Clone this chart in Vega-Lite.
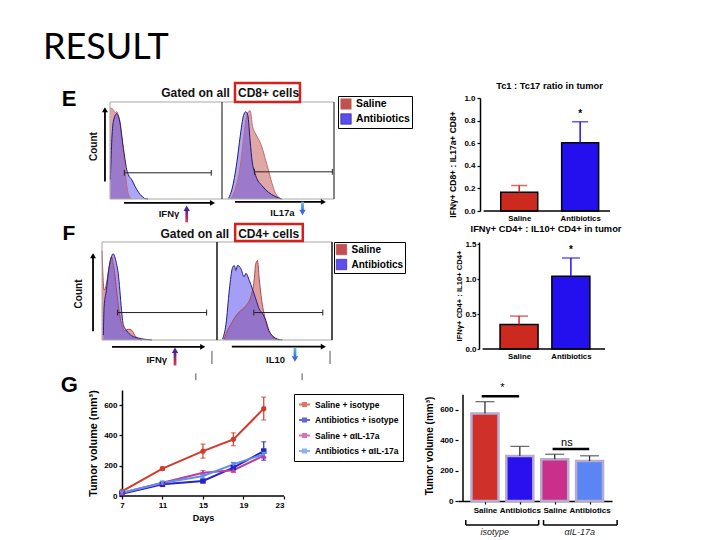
{
"$schema":"https://vega.github.io/schema/vega-lite/v6.json",
"padding":{"left":43,"top":30,"right":0,"bottom":0},
"title":{"text":"RESULT","anchor":"start","frame":"group","font":"Lato","fontSize":36,"fontWeight":"normal","color":"black"},
"columns":4,
"align":"each",
"bounds":"flush",
"spacing":0,
"resolve":{"scale":{"x":"independent","y":"independent","color":"independent","shape":"independent","stroke":"independent"},"axis":{"x":"independent","y":"independent"},"legend":{"color":"independent","shape":"independent"}},
"concat":[
{"width":59,"height":27,"data":{"values":[]},"mark":"point"},
{"width":1,"height":1,"data":{"values":[]},"mark":"point"},
{"width":124,"height":1,"data":{"values":[]},"mark":"point"},
{"width":1,"height":1,"data":{"values":[]},"mark":"point"},

{"width":1,"height":1,"data":{"values":[]},"mark":"point"},
{"width":232,"height":101,
"encoding":{"x":{"field":"x","type":"quantitative","scale":{"domain":[-7.14,200],"nice":false,"zero":false},"axis":null},"y":{"field":"y","type":"quantitative","stack":null,"scale":{"domain":[0,104.12],"nice":false,"zero":false},"axis":null}},
"layer":[
{"data":{"name":"hE"},"mark":{"type":"area","interpolate":"monotone","fillOpacity":0.5},
"encoding":{"detail":{"field":"panel"},"color":{"field":"group","type":"nominal","scale":{"domain":["Saline","Antibiotics"],"range":["#c0504d","#5a4ef0"]},"legend":{"orient":"none","legendX":236,"legendY":-2,"title":null,"symbolType":"square","symbolSize":110,"symbolOpacity":1,"symbolStrokeColor":"#333","symbolStrokeWidth":0.6,"labelFontSize":10.4,"labelFontWeight":"bold","strokeColor":"black","padding":2,"rowPadding":1}}}},
{"data":{"name":"hE"},"mark":{"type":"line","interpolate":"monotone","strokeWidth":1},
"encoding":{"detail":{"field":"panel"},"stroke":{"field":"group","type":"nominal","scale":{"domain":["Saline","Antibiotics"],"range":["#c46a68","#1e1a78"]},"legend":null}}},
{"data":{"values":[{"x":0,"x2":200,"y":100,"y2":100},{"x":0,"x2":0,"y":0,"y2":100},{"x":0,"x2":200,"y":0,"y2":0}]},"mark":{"type":"rule","color":"#a8a8a8","strokeWidth":1},"encoding":{"x2":{"field":"x2"},"y2":{"field":"y2"}}},
{"data":{"values":[{"x":100,"x2":100,"y":0,"y2":100},{"x":200,"x2":200,"y":0,"y2":100}]},"mark":{"type":"rule","color":"#333","strokeWidth":1.2},"encoding":{"x2":{"field":"x2"},"y2":{"field":"y2"}}},
{"data":{"values":[{"x":12.8,"x2":90.4,"y":27,"y2":27},{"x":12.8,"x2":12.8,"y":24,"y2":30},{"x":90.4,"x2":90.4,"y":24,"y2":30},{"x":129,"x2":198.5,"y":28,"y2":28},{"x":129,"x2":129,"y":25,"y2":31},{"x":198.5,"x2":198.5,"y":25,"y2":31}]},"mark":{"type":"rule","color":"#222","strokeWidth":1},"encoding":{"x2":{"field":"x2"},"y2":{"field":"y2"}}},
{"data":{"values":[{"x":-4.5,"x2":-4.5,"y":18,"y2":90},{"x":12.5,"x2":90,"y":-4,"y2":-4},{"x":111.6,"x2":189,"y":-3,"y2":-3}]},"mark":{"type":"rule","color":"black","strokeWidth":1.8},"encoding":{"x2":{"field":"x2"},"y2":{"field":"y2"}}},
{"data":{"values":[{"x":-4.5,"y":92,"d":"up"},{"x":91.5,"y":-4,"d":"right"},{"x":190.5,"y":-3,"d":"right"}]},"mark":{"type":"point","filled":true,"color":"black","size":35,"opacity":1},"encoding":{"shape":{"field":"d","type":"nominal","scale":{"domain":["up","right","down"],"range":["triangle-up","triangle-right","triangle-down"]},"legend":null}}},
{"data":{"values":[{"x":67.3,"x2":69.7,"y":-24,"y2":-11}]},"mark":{"type":"rect","fill":{"gradient":"linear","x1":0,"y1":1,"x2":0,"y2":0,"stops":[{"offset":0,"color":"#ee3a3a"},{"offset":1,"color":"#4a1e9e"}]}},"encoding":{"x2":{"field":"x2"},"y2":{"field":"y2"}}},
{"data":{"values":[{"x":68.5,"y":-9.5}]},"mark":{"type":"point","shape":"triangle-up","filled":true,"color":"#4a1e9e","size":40,"opacity":1}},
{"data":{"values":[{"x":170.7,"x2":173.1,"y":-2.8,"y2":-12}]},"mark":{"type":"rect","fill":{"gradient":"linear","x1":0,"y1":0,"x2":0,"y2":1,"stops":[{"offset":0,"color":"#5cc8ea"},{"offset":1,"color":"#3a6ae0"}]}},"encoding":{"x2":{"field":"x2"},"y2":{"field":"y2"}}},
{"data":{"values":[{"x":171.9,"y":-14}]},"mark":{"type":"point","shape":"triangle-down","filled":true,"color":"#3a6ae0","size":40,"opacity":1}},
{"data":{"values":[{"x":111.6,"x2":169.6,"y":100,"y2":119.6}]},"mark":{"type":"rect","filled":false,"stroke":"#d4211e","strokeWidth":2.5},"encoding":{"x2":{"field":"x2"},"y2":{"field":"y2"}}},
{"data":{"values":[{"x":107,"y":109.3,"t":"Gated on all"}]},"mark":{"type":"text","align":"right","baseline":"middle","fontWeight":"bold","fontSize":12,"color":"#111"},"encoding":{"text":{"field":"t"}}},
{"data":{"values":[{"x":114.3,"y":109.3,"t":"CD8+ cells"}]},"mark":{"type":"text","align":"left","baseline":"middle","fontWeight":"bold","fontSize":12,"color":"#111"},"encoding":{"text":{"field":"t"}}},
{"data":{"values":[{"x":-14,"y":54,"t":"Count"}]},"mark":{"type":"text","angle":270,"align":"center","baseline":"middle","fontWeight":"bold","fontSize":10,"color":"#111"},"encoding":{"text":{"field":"t"}}},
{"data":{"values":[{"x":52.7,"y":-15.5,"t":"IFNγ"},{"x":154,"y":-14.4,"t":"IL17a"}]},"mark":{"type":"text","align":"center","baseline":"middle","fontWeight":"bold","fontSize":9.5,"color":"#111"},"encoding":{"text":{"field":"t"}}},
{"data":{"values":[{"x":-36.6,"y":103,"t":"E"}]},"mark":{"type":"text","align":"center","baseline":"middle","fontWeight":"bold","fontSize":22,"color":"black"},"encoding":{"text":{"field":"t"}}}
]},
{"width":1,"height":1,"data":{"values":[]},"mark":"point"},
{"width":157,"height":113,
"title":{"text":"Tc1 : Tc17 ratio in tumor","fontSize":9.3,"fontWeight":"bold","font":"Liberation Sans","offset":3,"dx":13},
"layer":[
{"data":{"name":"b1"},"mark":{"type":"bar","size":37,"stroke":"black","strokeWidth":1.5},"encoding":{"x":{"field":"pos","type":"quantitative","scale":{"domain":[0.077,2.49],"nice":false,"zero":false},"axis":{"values":[1,2],"tickCount":10,"title":null,"labelExpr":"datum.value == 1 ? 'Saline' : 'Antibiotics'","ticks":false,"domain":false,"labelFontSize":7.8,"labelPadding":3,"labelOverlap":false}},"y":{"field":"mean","type":"quantitative","title":"IFNγ+ CD8+ : IL17a+ CD8+","scale":{"domain":[0,1],"nice":false},"axis":{"offset":-22,"values":[0,0.2,0.4,0.6,0.8,1.0],"tickCount":10,"format":".1f","labelOverlap":false,"labelFontSize":8,"titleFontSize":8.5,"tickSize":3,"titlePadding":6,"titleY":66}},"color":{"field":"group","type":"nominal","scale":{"domain":["Saline","Antibiotics"],"range":["#cc2a1f","#2410ee"]},"legend":null}}},
{"data":{"name":"b1"},"mark":{"type":"rule","strokeWidth":1.5},"encoding":{"x":{"field":"pos","type":"quantitative","scale":{"domain":[0.077,2.49],"nice":false,"zero":false}},"y":{"field":"mean","type":"quantitative","title":"IFNγ+ CD8+ : IL17a+ CD8+","scale":{"domain":[0,1],"nice":false}},"y2":{"field":"hi"},"color":{"field":"group","type":"nominal","scale":{"domain":["Saline","Antibiotics"],"range":["#cc2a1f","#2410ee"]},"legend":null}}},
{"data":{"name":"b1"},"mark":{"type":"tick","orient":"horizontal","thickness":1.5,"size":16},"encoding":{"x":{"field":"pos","type":"quantitative","scale":{"domain":[0.077,2.49],"nice":false,"zero":false}},"y":{"field":"hi","type":"quantitative","title":"IFNγ+ CD8+ : IL17a+ CD8+","scale":{"domain":[0,1],"nice":false}},"color":{"field":"group","type":"nominal","scale":{"domain":["Saline","Antibiotics"],"range":["#cc2a1f","#2410ee"]},"legend":null}}},
{"data":{"name":"b1"},"mark":{"type":"text","dy":-8,"fontSize":10,"fontWeight":"bold","color":"black"},"encoding":{"x":{"field":"pos","type":"quantitative","scale":{"domain":[0.077,2.49],"nice":false,"zero":false}},"y":{"field":"hi","type":"quantitative","title":"IFNγ+ CD8+ : IL17a+ CD8+","scale":{"domain":[0,1],"nice":false}},"text":{"field":"sig"}}},
{"data":{"values":[{"x":0.415,"x2":2.49,"y":0,"y2":0}]},"mark":{"type":"rule","color":"black","strokeWidth":1.5},"encoding":{"x":{"field":"x","type":"quantitative","scale":{"domain":[0.077,2.49],"nice":false,"zero":false}},"x2":{"field":"x2"},"y":{"field":"y","type":"quantitative","title":"IFNγ+ CD8+ : IL17a+ CD8+","scale":{"domain":[0,1],"nice":false}},"y2":{"field":"y2"}}}
]},

{"width":1,"height":31,"data":{"values":[]},"mark":"point"},
{"width":1,"height":1,"data":{"values":[]},"mark":"point"},
{"width":1,"height":1,"data":{"values":[]},"mark":"point"},
{"width":1,"height":1,"data":{"values":[]},"mark":"point"},

{"width":1,"height":1,"data":{"values":[]},"mark":"point"},
{"width":230,"height":98,
"encoding":{"x":{"field":"x","type":"quantitative","scale":{"domain":[0,200],"nice":false,"zero":false},"axis":null},"y":{"field":"y","type":"quantitative","stack":null,"scale":{"domain":[0,100],"nice":false,"zero":false},"axis":null}},
"layer":[
{"data":{"name":"hF"},"mark":{"type":"area","interpolate":"monotone","fillOpacity":0.55},
"encoding":{"detail":{"field":"panel"},"color":{"field":"group","type":"nominal","scale":{"domain":["Saline","Antibiotics"],"range":["#c0504d","#5a4ef0"]},"legend":{"orient":"none","legendX":232,"legendY":0,"title":null,"symbolType":"square","symbolSize":110,"symbolOpacity":1,"symbolStrokeColor":"#333","symbolStrokeWidth":0.6,"labelFontSize":10,"labelFontWeight":"bold","strokeColor":"black","padding":1.5,"rowPadding":1}}}},
{"data":{"name":"hF"},"mark":{"type":"line","interpolate":"monotone","strokeWidth":1},
"encoding":{"detail":{"field":"panel"},"stroke":{"field":"group","type":"nominal","scale":{"domain":["Saline","Antibiotics"],"range":["#b04848","#2a1e80"]},"legend":null}}},
{"data":{"values":[{"x":0,"x2":200,"y":100,"y2":100},{"x":0,"x2":0,"y":0,"y2":100},{"x":0,"x2":200,"y":0,"y2":0}]},"mark":{"type":"rule","color":"#a8a8a8","strokeWidth":1},"encoding":{"x2":{"field":"x2"},"y2":{"field":"y2"}}},
{"data":{"values":[{"x":100,"x2":100,"y":0,"y2":100},{"x":200,"x2":200,"y":0,"y2":100}]},"mark":{"type":"rule","color":"#222","strokeWidth":1.6},"encoding":{"x2":{"field":"x2"},"y2":{"field":"y2"}}},
{"data":{"values":[{"x":13.5,"x2":91,"y":28,"y2":28},{"x":13.5,"x2":13.5,"y":25,"y2":31},{"x":91,"x2":91,"y":25,"y2":31},{"x":132,"x2":192,"y":28,"y2":28},{"x":132,"x2":132,"y":25,"y2":31},{"x":192,"x2":192,"y":25,"y2":31}]},"mark":{"type":"rule","color":"#222","strokeWidth":1},"encoding":{"x2":{"field":"x2"},"y2":{"field":"y2"}}},
{"data":{"values":[{"x":-7.8,"x2":-7.8,"y":9,"y2":84},{"x":8.7,"x2":86,"y":-7,"y2":-7},{"x":112.9,"x2":191,"y":-6.8,"y2":-6.8}]},"mark":{"type":"rule","color":"black","strokeWidth":1.8},"encoding":{"x2":{"field":"x2"},"y2":{"field":"y2"}}},
{"data":{"values":[{"x":95.6,"x2":95.6,"y":-11,"y2":-24.5},{"x":81.6,"x2":81.6,"y":-34,"y2":-41},{"x":198.3,"x2":198.3,"y":-11,"y2":-24.5},{"x":174,"x2":174,"y":-34,"y2":-41}]},"mark":{"type":"rule","color":"#555","strokeWidth":1},"encoding":{"x2":{"field":"x2"},"y2":{"field":"y2"}}},
{"data":{"values":[{"x":-7.8,"y":86,"d":"up"},{"x":87.6,"y":-7,"d":"right"},{"x":192.5,"y":-6.8,"d":"right"}]},"mark":{"type":"point","filled":true,"color":"black","size":35,"opacity":1},"encoding":{"shape":{"field":"d","type":"nominal","scale":{"domain":["up","right","down"],"range":["triangle-up","triangle-right","triangle-down"]},"legend":null}}},
{"data":{"values":[{"x":62.3,"x2":64.7,"y":-26,"y2":-12.6}]},"mark":{"type":"rect","fill":{"gradient":"linear","x1":0,"y1":1,"x2":0,"y2":0,"stops":[{"offset":0,"color":"#ee3a3a"},{"offset":1,"color":"#4a1e9e"}]}},"encoding":{"x2":{"field":"x2"},"y2":{"field":"y2"}}},
{"data":{"values":[{"x":63.5,"y":-10.5}]},"mark":{"type":"point","shape":"triangle-up","filled":true,"color":"#4a1e9e","size":40,"opacity":1}},
{"data":{"values":[{"x":166.6,"x2":169,"y":-8,"y2":-17}]},"mark":{"type":"rect","fill":{"gradient":"linear","x1":0,"y1":0,"x2":0,"y2":1,"stops":[{"offset":0,"color":"#5cc8ea"},{"offset":1,"color":"#3a6ae0"}]}},"encoding":{"x2":{"field":"x2"},"y2":{"field":"y2"}}},
{"data":{"values":[{"x":167.8,"y":-19.5}]},"mark":{"type":"point","shape":"triangle-down","filled":true,"color":"#3a6ae0","size":40,"opacity":1}},
{"data":{"values":[{"x":115.8,"x2":174.6,"y":101,"y2":118.4}]},"mark":{"type":"rect","filled":false,"stroke":"#d4211e","strokeWidth":2.5},"encoding":{"x2":{"field":"x2"},"y2":{"field":"y2"}}},
{"data":{"values":[{"x":110.5,"y":108,"t":"Gated on all"}]},"mark":{"type":"text","align":"right","baseline":"middle","fontWeight":"bold","fontSize":12,"color":"#111"},"encoding":{"text":{"field":"t"}}},
{"data":{"values":[{"x":118.4,"y":108,"t":"CD4+ cells"}]},"mark":{"type":"text","align":"left","baseline":"middle","fontWeight":"bold","fontSize":12,"color":"#111"},"encoding":{"text":{"field":"t"}}},
{"data":{"values":[{"x":-20,"y":47,"t":"Count"}]},"mark":{"type":"text","angle":270,"align":"center","baseline":"middle","fontWeight":"bold","fontSize":10,"color":"#111"},"encoding":{"text":{"field":"t"}}},
{"data":{"values":[{"x":47.6,"y":-20.4,"t":"IFNγ"},{"x":150.9,"y":-20.4,"t":"IL10"}]},"mark":{"type":"text","align":"center","baseline":"middle","fontWeight":"bold","fontSize":9.5,"color":"#111"},"encoding":{"text":{"field":"t"}}},
{"data":{"values":[{"x":-28.7,"y":108,"t":"F"}]},"mark":{"type":"text","align":"center","baseline":"middle","fontWeight":"bold","fontSize":21,"color":"black"},"encoding":{"text":{"field":"t"}}}
]},
{"width":1,"height":1,"data":{"values":[]},"mark":"point"},
{"width":152,"height":107,
"title":{"text":"IFNγ+ CD4+ : IL10+ CD4+ in tumor","fontSize":9.3,"fontWeight":"bold","font":"Liberation Sans","offset":6,"dx":12},
"layer":[
{"data":{"name":"b2"},"mark":{"type":"bar","size":38,"stroke":"black","strokeWidth":1.5},"encoding":{"x":{"field":"pos","type":"quantitative","scale":{"domain":[-0.081,2.658],"nice":false,"zero":false},"axis":{"values":[1,2],"tickCount":10,"title":null,"labelExpr":"datum.value == 1 ? 'Saline' : 'Antibiotics'","ticks":false,"domain":false,"labelFontSize":7.8,"labelPadding":3,"labelOverlap":false}},"y":{"field":"mean","type":"quantitative","title":"IFNγ+ CD4+ : IL10+ CD4+","scale":{"domain":[0,1.5286],"nice":false},"axis":{"offset":-21,"values":[0,0.5,1.0,1.5],"tickCount":10,"format":".1f","labelOverlap":false,"labelFontSize":8,"titleFontSize":7.6,"tickSize":2,"labelPadding":1,"titlePadding":1}},"color":{"field":"group","type":"nominal","scale":{"domain":["Saline","Antibiotics"],"range":["#cc2a1f","#2410ee"]},"legend":null}}},
{"data":{"name":"b2"},"mark":{"type":"rule","strokeWidth":1.5},"encoding":{"x":{"field":"pos","type":"quantitative","scale":{"domain":[-0.081,2.658],"nice":false,"zero":false}},"y":{"field":"mean","type":"quantitative","title":"IFNγ+ CD4+ : IL10+ CD4+","scale":{"domain":[0,1.5286],"nice":false}},"y2":{"field":"hi"},"color":{"field":"group","type":"nominal","scale":{"domain":["Saline","Antibiotics"],"range":["#cc2a1f","#2410ee"]},"legend":null}}},
{"data":{"name":"b2"},"mark":{"type":"tick","orient":"horizontal","thickness":1.5,"size":18},"encoding":{"x":{"field":"pos","type":"quantitative","scale":{"domain":[-0.081,2.658],"nice":false,"zero":false}},"y":{"field":"hi","type":"quantitative","title":"IFNγ+ CD4+ : IL10+ CD4+","scale":{"domain":[0,1.5286],"nice":false}},"color":{"field":"group","type":"nominal","scale":{"domain":["Saline","Antibiotics"],"range":["#cc2a1f","#2410ee"]},"legend":null}}},
{"data":{"name":"b2"},"mark":{"type":"text","dy":-8,"fontSize":10,"fontWeight":"bold","color":"black"},"encoding":{"x":{"field":"pos","type":"quantitative","scale":{"domain":[-0.081,2.658],"nice":false,"zero":false}},"y":{"field":"hi","type":"quantitative","title":"IFNγ+ CD4+ : IL10+ CD4+","scale":{"domain":[0,1.5286],"nice":false}},"text":{"field":"sig"}}},
{"data":{"values":[{"x":0.297,"x2":2.658,"y":0,"y2":0}]},"mark":{"type":"rule","color":"black","strokeWidth":1.5},"encoding":{"x":{"field":"x","type":"quantitative","scale":{"domain":[-0.081,2.658],"nice":false,"zero":false}},"x2":{"field":"x2"},"y":{"field":"y","type":"quantitative","title":"IFNγ+ CD4+ : IL10+ CD4+","scale":{"domain":[0,1.5286],"nice":false}},"y2":{"field":"y2"}}}
]},

{"width":1,"height":41,"data":{"values":[]},"mark":"point"},
{"width":1,"height":1,"data":{"values":[]},"mark":"point"},
{"width":1,"height":1,"data":{"values":[]},"mark":"point"},
{"width":1,"height":1,"data":{"values":[]},"mark":"point"},

{"width":1,"height":1,"data":{"values":[]},"mark":"point"},
{"width":182,"height":106,
"layer":[
{"data":{"values":[{"x":7,"x2":23,"y":0,"y2":0}]},"mark":{"type":"rule","color":"black","strokeWidth":1.5},"encoding":{"x":{"field":"x","type":"quantitative","scale":{"domain":[5.033,23],"nice":false,"zero":false},"title":"Days","axis":{"values":[7,11,15,19,23],"tickCount":10,"domain":false,"labelOverlap":false,"titleFontSize":9,"labelFontSize":8,"tickSize":3,"titlePadding":4,"titleX":101}},"x2":{"field":"x2"},"y":{"field":"y","type":"quantitative","title":"Tumor volume (mm³)","scale":{"domain":[0,700],"nice":false},"axis":{"offset":-20,"values":[0,200,400,600],"tickCount":10,"labelOverlap":false,"labelFontSize":8,"tickSize":3,"titleFontSize":10.8,"titlePadding":5}},"y2":{"field":"y2"}}},
{"data":{"name":"g"},"mark":{"type":"errorbar","ticks":true,"thickness":1.2},"encoding":{"x":{"field":"day","type":"quantitative","scale":{"domain":[5.033,23],"nice":false,"zero":false},"title":"Days"},"y":{"field":"lo","type":"quantitative","title":"Tumor volume (mm³)","scale":{"domain":[0,700],"nice":false}},"y2":{"field":"hi"},"color":{"field":"s","type":"nominal","scale":{"domain":["Saline + isotype","Antibiotics + isotype","Saline + αIL-17a","Antibiotics + αIL-17a"],"range":["#d23a2c","#2424c8","#c03c9c","#5f8fe8"]},"legend":{"orient":"none","legendX":192,"legendY":4,"title":null,"symbolType":"M-1,0H1M-0.28,-0.28H0.28V0.28H-0.28Z","symbolStrokeWidth":2,"symbolSize":120,"labelFontSize":8.5,"labelFontWeight":"bold","strokeColor":"black","padding":4,"rowPadding":2.5}}}},
{"data":{"name":"g"},"mark":{"type":"line","strokeWidth":2},"encoding":{"x":{"field":"day","type":"quantitative","scale":{"domain":[5.033,23],"nice":false,"zero":false},"title":"Days"},"y":{"field":"v","type":"quantitative","title":"Tumor volume (mm³)","scale":{"domain":[0,700],"nice":false}},"color":{"field":"s","type":"nominal","scale":{"domain":["Saline + isotype","Antibiotics + isotype","Saline + αIL-17a","Antibiotics + αIL-17a"],"range":["#d23a2c","#2424c8","#c03c9c","#5f8fe8"]}}}},
{"data":{"name":"g"},"transform":[{"filter":"datum.s == 'Saline + isotype'"}],"mark":{"type":"point","shape":"circle","filled":true,"size":28,"opacity":1},"encoding":{"x":{"field":"day","type":"quantitative","scale":{"domain":[5.033,23],"nice":false,"zero":false},"title":"Days"},"y":{"field":"v","type":"quantitative","title":"Tumor volume (mm³)","scale":{"domain":[0,700],"nice":false}},"color":{"field":"s","type":"nominal","scale":{"domain":["Saline + isotype","Antibiotics + isotype","Saline + αIL-17a","Antibiotics + αIL-17a"],"range":["#d23a2c","#2424c8","#c03c9c","#5f8fe8"]}}}},
{"data":{"name":"g"},"transform":[{"filter":"datum.s == 'Antibiotics + isotype'"}],"mark":{"type":"point","shape":"square","filled":true,"size":30,"opacity":1},"encoding":{"x":{"field":"day","type":"quantitative","scale":{"domain":[5.033,23],"nice":false,"zero":false},"title":"Days"},"y":{"field":"v","type":"quantitative","title":"Tumor volume (mm³)","scale":{"domain":[0,700],"nice":false}},"color":{"field":"s","type":"nominal","scale":{"domain":["Saline + isotype","Antibiotics + isotype","Saline + αIL-17a","Antibiotics + αIL-17a"],"range":["#d23a2c","#2424c8","#c03c9c","#5f8fe8"]}}}},
{"data":{"name":"g"},"transform":[{"filter":"datum.s == 'Saline + αIL-17a'"}],"mark":{"type":"point","shape":"triangle-up","filled":true,"size":30,"opacity":1},"encoding":{"x":{"field":"day","type":"quantitative","scale":{"domain":[5.033,23],"nice":false,"zero":false},"title":"Days"},"y":{"field":"v","type":"quantitative","title":"Tumor volume (mm³)","scale":{"domain":[0,700],"nice":false}},"color":{"field":"s","type":"nominal","scale":{"domain":["Saline + isotype","Antibiotics + isotype","Saline + αIL-17a","Antibiotics + αIL-17a"],"range":["#d23a2c","#2424c8","#c03c9c","#5f8fe8"]}}}},
{"data":{"name":"g"},"transform":[{"filter":"datum.s == 'Antibiotics + αIL-17a'"}],"mark":{"type":"point","shape":"triangle-down","filled":true,"size":30,"opacity":1},"encoding":{"x":{"field":"day","type":"quantitative","scale":{"domain":[5.033,23],"nice":false,"zero":false},"title":"Days"},"y":{"field":"v","type":"quantitative","title":"Tumor volume (mm³)","scale":{"domain":[0,700],"nice":false}},"color":{"field":"s","type":"nominal","scale":{"domain":["Saline + isotype","Antibiotics + isotype","Saline + αIL-17a","Antibiotics + αIL-17a"],"range":["#d23a2c","#2424c8","#c03c9c","#5f8fe8"]}}}},
{"data":{"values":[{"x":1.8,"y":733,"t":"G"}]},"mark":{"type":"text","align":"center","baseline":"middle","fontWeight":"bold","fontSize":22,"color":"black"},"encoding":{"x":{"field":"x","type":"quantitative","scale":{"domain":[5.033,23],"nice":false,"zero":false},"title":"Days"},"y":{"field":"y","type":"quantitative","title":"Tumor volume (mm³)","scale":{"domain":[0,700],"nice":false}},"text":{"field":"t"}}}
]},
{"width":1,"height":1,"data":{"values":[]},"mark":"point"},
{"width":154,"height":111,
"layer":[
{"data":{"name":"b3"},"mark":{"type":"bar","size":27,"stroke":"#b7abcf","strokeWidth":2.5},"encoding":{"x":{"field":"pos","type":"quantitative","scale":{"domain":[0.37,4.5],"nice":false,"zero":false},"axis":{"values":[1,2,3,4],"tickCount":10,"title":null,"labelExpr":"datum.value == 1 || datum.value == 3 ? 'Saline' : 'Antibiotics'","labelOverlap":false,"labelFontSize":8,"tickSize":3}},"y":{"field":"mean","type":"quantitative","title":"Tumor volume (mm³)","scale":{"domain":[0,731.7],"nice":false},"axis":{"values":[0,200,400,600],"tickCount":10,"domain":false,"labelOverlap":false,"labelFontSize":8,"tickSize":3,"titleFontSize":10,"titlePadding":5}},"color":{"field":"c","type":"nominal","scale":{"domain":["Saline isotype","Antibiotics isotype","Saline αIL-17a","Antibiotics αIL-17a"],"range":["#d0302a","#2a10ee","#c8308c","#5b85f2"]},"legend":null}}},
{"data":{"name":"b3"},"mark":{"type":"rule","color":"#333","strokeWidth":1.3},"encoding":{"x":{"field":"pos","type":"quantitative","scale":{"domain":[0.37,4.5],"nice":false,"zero":false}},"y":{"field":"mean","type":"quantitative","title":"Tumor volume (mm³)","scale":{"domain":[0,731.7],"nice":false}},"y2":{"field":"hi"}}},
{"data":{"name":"b3"},"mark":{"type":"tick","orient":"horizontal","color":"#333","thickness":1.3,"size":19},"encoding":{"x":{"field":"pos","type":"quantitative","scale":{"domain":[0.37,4.5],"nice":false,"zero":false}},"y":{"field":"hi","type":"quantitative","title":"Tumor volume (mm³)","scale":{"domain":[0,731.7],"nice":false}}}},
{"data":{"values":[{"x":0.37,"x2":0.37,"y":0,"y2":700}]},"mark":{"type":"rule","color":"black","strokeWidth":1.5},"encoding":{"x":{"field":"x","type":"quantitative","scale":{"domain":[0.37,4.5],"nice":false,"zero":false}},"x2":{"field":"x2"},"y":{"field":"y","type":"quantitative","title":"Tumor volume (mm³)","scale":{"domain":[0,731.7],"nice":false}},"y2":{"field":"y2"}}},
{"data":{"values":[{"x":0.906,"x2":1.98,"y":690,"y2":690},{"x":2.94,"x2":3.99,"y":343,"y2":343}]},"mark":{"type":"rule","color":"black","strokeWidth":2.5},"encoding":{"x":{"field":"x","type":"quantitative","scale":{"domain":[0.37,4.5],"nice":false,"zero":false}},"x2":{"field":"x2"},"y":{"field":"y","type":"quantitative","title":"Tumor volume (mm³)","scale":{"domain":[0,731.7],"nice":false}},"y2":{"field":"y2"}}},
{"data":{"values":[{"x":0.45,"x2":2.54,"y":-158,"y2":-158},{"x":0.45,"x2":0.45,"y":-125,"y2":-158},{"x":2.54,"x2":2.54,"y":-125,"y2":-158},{"x":2.68,"x2":4.79,"y":-158,"y2":-158},{"x":2.68,"x2":2.68,"y":-125,"y2":-158},{"x":4.79,"x2":4.79,"y":-125,"y2":-158}]},"mark":{"type":"rule","color":"black","strokeWidth":1.5},"encoding":{"x":{"field":"x","type":"quantitative","scale":{"domain":[0.37,4.5],"nice":false,"zero":false}},"x2":{"field":"x2"},"y":{"field":"y","type":"quantitative","title":"Tumor volume (mm³)","scale":{"domain":[0,731.7],"nice":false}},"y2":{"field":"y2"}}},
{"data":{"values":[{"x":1.5,"y":745,"t":"*"},{"x":3.35,"y":383,"t":"ns"}]},"mark":{"type":"text","align":"center","baseline":"middle","fontSize":11,"color":"black"},"encoding":{"x":{"field":"x","type":"quantitative","scale":{"domain":[0.37,4.5],"nice":false,"zero":false}},"y":{"field":"y","type":"quantitative","title":"Tumor volume (mm³)","scale":{"domain":[0,731.7],"nice":false}},"text":{"field":"t"}}},
{"data":{"values":[{"x":1.28,"y":-204,"t":"isotype"},{"x":3.72,"y":-204,"t":"αIL-17a"}]},"mark":{"type":"text","align":"center","baseline":"middle","fontSize":9,"fontStyle":"italic","color":"#222"},"encoding":{"x":{"field":"x","type":"quantitative","scale":{"domain":[0.37,4.5],"nice":false,"zero":false}},"y":{"field":"y","type":"quantitative","title":"Tumor volume (mm³)","scale":{"domain":[0,731.7],"nice":false}},"text":{"field":"t"}}}
]}
],
"datasets":{
"hE":[
{"panel":"L","group":"Saline","x":0,"y":94},{"panel":"L","group":"Saline","x":3,"y":92},{"panel":"L","group":"Saline","x":4.5,"y":89},{"panel":"L","group":"Saline","x":6,"y":90},{"panel":"L","group":"Saline","x":7.5,"y":86},{"panel":"L","group":"Saline","x":9,"y":79},{"panel":"L","group":"Saline","x":10.4,"y":65},{"panel":"L","group":"Saline","x":12,"y":48},{"panel":"L","group":"Saline","x":13.4,"y":31},{"panel":"L","group":"Saline","x":15,"y":14},{"panel":"L","group":"Saline","x":16.4,"y":5},{"panel":"L","group":"Saline","x":19,"y":0},
{"panel":"L","group":"Antibiotics","x":0.3,"y":20},{"panel":"L","group":"Antibiotics","x":1.5,"y":58},{"panel":"L","group":"Antibiotics","x":3,"y":80},{"panel":"L","group":"Antibiotics","x":6,"y":88},{"panel":"L","group":"Antibiotics","x":7.5,"y":85},{"panel":"L","group":"Antibiotics","x":9,"y":78},{"panel":"L","group":"Antibiotics","x":10.4,"y":66},{"panel":"L","group":"Antibiotics","x":12,"y":52},{"panel":"L","group":"Antibiotics","x":13.4,"y":41},{"panel":"L","group":"Antibiotics","x":15,"y":30},{"panel":"L","group":"Antibiotics","x":16.4,"y":25},{"panel":"L","group":"Antibiotics","x":19.4,"y":20},{"panel":"L","group":"Antibiotics","x":22.4,"y":13},{"panel":"L","group":"Antibiotics","x":25.4,"y":7},{"panel":"L","group":"Antibiotics","x":28.4,"y":3},{"panel":"L","group":"Antibiotics","x":31,"y":0.5},{"panel":"L","group":"Antibiotics","x":34,"y":0},
{"panel":"R","group":"Saline","x":107.4,"y":0},{"panel":"R","group":"Saline","x":111.8,"y":10},{"panel":"R","group":"Saline","x":116.3,"y":34},{"panel":"R","group":"Saline","x":119.2,"y":62},{"panel":"R","group":"Saline","x":121.3,"y":82},{"panel":"R","group":"Saline","x":123.1,"y":89},{"panel":"R","group":"Saline","x":125.1,"y":91},{"panel":"R","group":"Saline","x":127.2,"y":75},{"panel":"R","group":"Saline","x":129.6,"y":68},{"panel":"R","group":"Saline","x":132.5,"y":62},{"panel":"R","group":"Saline","x":135.5,"y":54},{"panel":"R","group":"Saline","x":138.5,"y":42},{"panel":"R","group":"Saline","x":141.4,"y":30},{"panel":"R","group":"Saline","x":144.4,"y":17},{"panel":"R","group":"Saline","x":147.3,"y":7},{"panel":"R","group":"Saline","x":150.3,"y":2},{"panel":"R","group":"Saline","x":153,"y":0},
{"panel":"R","group":"Antibiotics","x":105.9,"y":0.7},{"panel":"R","group":"Antibiotics","x":108.9,"y":10},{"panel":"R","group":"Antibiotics","x":113.3,"y":38},{"panel":"R","group":"Antibiotics","x":116.3,"y":65},{"panel":"R","group":"Antibiotics","x":119.2,"y":86},{"panel":"R","group":"Antibiotics","x":121.3,"y":90},{"panel":"R","group":"Antibiotics","x":123.1,"y":86},{"panel":"R","group":"Antibiotics","x":125.1,"y":60},{"panel":"R","group":"Antibiotics","x":127,"y":38},{"panel":"R","group":"Antibiotics","x":129,"y":28},{"panel":"R","group":"Antibiotics","x":131.1,"y":21},{"panel":"R","group":"Antibiotics","x":135.5,"y":14},{"panel":"R","group":"Antibiotics","x":141.4,"y":7},{"panel":"R","group":"Antibiotics","x":147.3,"y":2.7},{"panel":"R","group":"Antibiotics","x":153.3,"y":0}],
"hF":[
{"panel":"L","group":"Saline","x":0,"y":91},{"panel":"L","group":"Saline","x":1.8,"y":51},{"panel":"L","group":"Saline","x":3.8,"y":57},{"panel":"L","group":"Saline","x":5.3,"y":68},{"panel":"L","group":"Saline","x":6.7,"y":78},{"panel":"L","group":"Saline","x":8.2,"y":85},{"panel":"L","group":"Saline","x":9.7,"y":78},{"panel":"L","group":"Saline","x":11.1,"y":68},{"panel":"L","group":"Saline","x":12.6,"y":51},{"panel":"L","group":"Saline","x":14.7,"y":31},{"panel":"L","group":"Saline","x":17,"y":16},{"panel":"L","group":"Saline","x":19.9,"y":9.6},{"panel":"L","group":"Saline","x":22.9,"y":11},{"panel":"L","group":"Saline","x":25.8,"y":10},{"panel":"L","group":"Saline","x":28.7,"y":4.4},{"panel":"L","group":"Saline","x":31.7,"y":1},{"panel":"L","group":"Saline","x":34.6,"y":0},
{"panel":"L","group":"Antibiotics","x":1.2,"y":5},{"panel":"L","group":"Antibiotics","x":1.8,"y":33},{"panel":"L","group":"Antibiotics","x":3.8,"y":51},{"panel":"L","group":"Antibiotics","x":5.9,"y":72},{"panel":"L","group":"Antibiotics","x":8.2,"y":85},{"panel":"L","group":"Antibiotics","x":9.7,"y":88},{"panel":"L","group":"Antibiotics","x":11.1,"y":85},{"panel":"L","group":"Antibiotics","x":12.6,"y":78},{"panel":"L","group":"Antibiotics","x":14.1,"y":68},{"panel":"L","group":"Antibiotics","x":15.5,"y":51},{"panel":"L","group":"Antibiotics","x":17,"y":30},{"panel":"L","group":"Antibiotics","x":18.5,"y":16},{"panel":"L","group":"Antibiotics","x":21.4,"y":9.6},{"panel":"L","group":"Antibiotics","x":25.8,"y":4.4},{"panel":"L","group":"Antibiotics","x":31.7,"y":2},{"panel":"L","group":"Antibiotics","x":37.5,"y":0.7},{"panel":"L","group":"Antibiotics","x":43.4,"y":0},
{"panel":"R","group":"Saline","x":106.3,"y":1},{"panel":"R","group":"Saline","x":109.2,"y":10},{"panel":"R","group":"Saline","x":112.1,"y":16},{"panel":"R","group":"Saline","x":115,"y":22},{"panel":"R","group":"Saline","x":117.9,"y":27},{"panel":"R","group":"Saline","x":120.7,"y":30},{"panel":"R","group":"Saline","x":123.6,"y":33},{"panel":"R","group":"Saline","x":126.5,"y":37},{"panel":"R","group":"Saline","x":129.4,"y":44},{"panel":"R","group":"Saline","x":132.3,"y":61},{"panel":"R","group":"Saline","x":133.7,"y":78},{"panel":"R","group":"Saline","x":135.2,"y":81},{"panel":"R","group":"Saline","x":136.6,"y":64},{"panel":"R","group":"Saline","x":138.9,"y":40},{"panel":"R","group":"Saline","x":140.9,"y":27},{"panel":"R","group":"Saline","x":143.8,"y":13},{"panel":"R","group":"Saline","x":146.7,"y":6},{"panel":"R","group":"Saline","x":151,"y":1},{"panel":"R","group":"Saline","x":153.9,"y":0},
{"panel":"R","group":"Antibiotics","x":104.9,"y":1},{"panel":"R","group":"Antibiotics","x":107.8,"y":16},{"panel":"R","group":"Antibiotics","x":110.7,"y":51},{"panel":"R","group":"Antibiotics","x":112.1,"y":65},{"panel":"R","group":"Antibiotics","x":113.5,"y":74},{"panel":"R","group":"Antibiotics","x":115,"y":76},{"panel":"R","group":"Antibiotics","x":116.4,"y":71},{"panel":"R","group":"Antibiotics","x":117.9,"y":76},{"panel":"R","group":"Antibiotics","x":120.7,"y":73},{"panel":"R","group":"Antibiotics","x":123.6,"y":64.5},{"panel":"R","group":"Antibiotics","x":125.1,"y":68},{"panel":"R","group":"Antibiotics","x":128,"y":61},{"panel":"R","group":"Antibiotics","x":130.8,"y":52},{"panel":"R","group":"Antibiotics","x":133.7,"y":42},{"panel":"R","group":"Antibiotics","x":136.6,"y":32},{"panel":"R","group":"Antibiotics","x":139.5,"y":27},{"panel":"R","group":"Antibiotics","x":142.4,"y":20},{"panel":"R","group":"Antibiotics","x":145.2,"y":9.6},{"panel":"R","group":"Antibiotics","x":148.1,"y":4.4},{"panel":"R","group":"Antibiotics","x":151,"y":1.7},{"panel":"R","group":"Antibiotics","x":156.8,"y":0}],
"b1":[{"group":"Saline","pos":1,"mean":0.165,"hi":0.225,"sig":""},{"group":"Antibiotics","pos":2,"mean":0.605,"hi":0.79,"sig":"*"}],
"b2":[{"group":"Saline","pos":1,"mean":0.35,"hi":0.47,"sig":""},{"group":"Antibiotics","pos":2,"mean":1.04,"hi":1.3,"sig":"*"}],
"g":[
{"s":"Saline + isotype","day":7,"v":30,"lo":27,"hi":33},{"s":"Saline + isotype","day":11,"v":181,"lo":170,"hi":192},{"s":"Saline + isotype","day":15,"v":296,"lo":250,"hi":343},{"s":"Saline + isotype","day":18,"v":374,"lo":332,"hi":417},{"s":"Saline + isotype","day":21,"v":577,"lo":502,"hi":653},
{"s":"Antibiotics + isotype","day":7,"v":15,"lo":13,"hi":17},{"s":"Antibiotics + isotype","day":11,"v":77,"lo":72,"hi":82},{"s":"Antibiotics + isotype","day":15,"v":99,"lo":92,"hi":106},{"s":"Antibiotics + isotype","day":18,"v":187,"lo":175,"hi":199},{"s":"Antibiotics + isotype","day":21,"v":297,"lo":236,"hi":358},
{"s":"Saline + αIL-17a","day":7,"v":20,"lo":18,"hi":22},{"s":"Saline + αIL-17a","day":11,"v":88,"lo":82,"hi":94},{"s":"Saline + αIL-17a","day":15,"v":154,"lo":140,"hi":168},{"s":"Saline + αIL-17a","day":18,"v":170,"lo":158,"hi":182},{"s":"Saline + αIL-17a","day":21,"v":266,"lo":248,"hi":284},
{"s":"Antibiotics + αIL-17a","day":7,"v":22,"lo":20,"hi":24},{"s":"Antibiotics + αIL-17a","day":11,"v":86,"lo":80,"hi":92},{"s":"Antibiotics + αIL-17a","day":15,"v":132,"lo":124,"hi":140},{"s":"Antibiotics + αIL-17a","day":18,"v":209,"lo":196,"hi":222},{"s":"Antibiotics + αIL-17a","day":21,"v":276,"lo":258,"hi":294}],
"b3":[
{"c":"Saline isotype","pos":1,"mean":577,"hi":655},{"c":"Antibiotics isotype","pos":2,"mean":297,"hi":360},{"c":"Saline αIL-17a","pos":3,"mean":275,"hi":308},{"c":"Antibiotics αIL-17a","pos":4,"mean":263,"hi":298}]
},
"config":{"view":{"stroke":null},"font":"Liberation Sans","text":{"font":"Liberation Sans"},
"axis":{"grid":false,"labelOverlap":false,"domainColor":"black","tickColor":"black","labelColor":"black","titleColor":"black","labelFontWeight":"bold","titleFontWeight":"bold","labelFont":"Liberation Sans","titleFont":"Liberation Sans","domainWidth":1.5,"tickWidth":1.2},
"legend":{"labelFont":"Liberation Sans","labelColor":"black"}}
}
